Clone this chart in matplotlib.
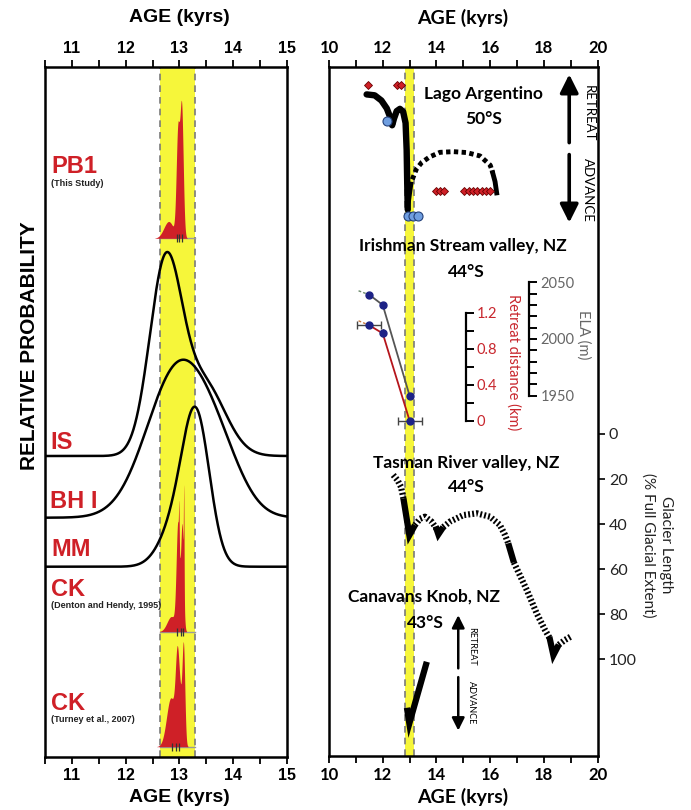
import numpy as np
import matplotlib
matplotlib.use("Agg")
import matplotlib.pyplot as plt
from matplotlib.ticker import MultipleLocator

# ---------------- data ----------------
# Left panel: relative probability curves (age kyr, 1-sigma kyr, relative weight)
left_ticks = [11, 12, 13, 14, 15]
band_left = [12.64, 13.28]
band_right = [12.83, 13.18]

is_ages = [12.74, 13.45]
is_sig = [0.30, 0.40]
is_w = [1.0, 0.38]
bh_ages = [12.97, 13.75]
bh_sig = [0.58, 0.45]
bh_w = [1.0, 0.28]
mm_ages = [13.32, 12.95]
mm_sig = [0.25, 0.30]
mm_w = [1.0, 0.30]
pb1_ages = [12.80, 12.97, 13.04]
pb1_sig = [0.09, 0.03, 0.03]
pb1_w = [0.13, 0.80, 1.0]
ckd_ages = [12.85, 12.97, 13.05, 13.08, 12.99]
ckd_sig = [0.08, 0.03, 0.025, 0.006, 0.006]
ckd_w = [0.08, 0.55, 0.55, 0.50, 0.20]
ckt_ages = [12.84, 12.96, 13.02, 13.075]
ckt_sig = [0.08, 0.035, 0.03, 0.025]
ckt_w = [0.45, 0.75, 0.30, 0.90]
pb1_marks = [12.96, 13.00, 13.04]
ckd_marks = [12.96, 13.02, 13.06]
ckt_marks = [12.86, 12.94, 13.00]

# Right panel (age kyr, glacier length % of full glacial extent; schematic)
right_ticks = [10, 12, 14, 16, 18, 20]
length_ticks = [0, 20, 40, 60, 80, 100]

lago_solid_age = [11.40, 11.70, 11.95, 12.15, 12.28, 12.35, 12.42, 12.52, 12.64, 12.76, 12.85, 12.89, 12.91, 12.93]
lago_solid_len = [-150.7, -150.3, -148.0, -144.5, -140.5, -137.0, -140.0, -143.3, -144.3, -143.0, -138.0, -126.0, -112.0, -99.6]
lago_link_age = [12.93, 12.99, 13.06]
lago_link_len = [-99.6, -105.0, -111.0]
lago_dash_age = [13.10, 13.25, 13.45, 13.75, 14.13, 14.63, 15.12, 15.62, 16.00, 16.09]
lago_dash_len = [-113.0, -117.5, -120.5, -123.0, -125.0, -125.3, -124.9, -123.4, -119.3, -116.0]
lago_end_age = [16.09, 16.18, 16.24]
lago_end_len = [-116.0, -112.0, -107.0]
lago_diam_top_age = [11.45, 12.52, 12.68]
lago_diam_top_len = [-155.1, -155.1, -155.1]
lago_diam_bot_age = [13.98, 14.13, 14.28, 15.02, 15.22, 15.37, 15.52, 15.68, 15.84, 15.99]
lago_diam_bot_len = [-107.7] * 10
lago_blue_age = [12.17, 12.95, 13.14, 13.32]
lago_blue_len = [-138.8, -96.9, -96.9, -96.9]

irish_age = [11.5, 12.0, 13.0]
irish_ela = [2039, 2030, 1950]
irish_retreat = [1.06, 0.97, 0.0]
irish_age_err = [0.45, 0.0, 0.45]
irish_ext_age = [11.1, 11.5]
irish_ext_ela = [2042.5, 2039]
irish_ext_ret = [1.11, 1.06]

tas_h1_age = [12.39, 12.55, 12.68, 12.77]
tas_h1_len = [18.2, 20.5, 23.5, 28.6]
tas_s1_age = [12.77, 12.99, 13.20]
tas_s1_len = [28.6, 44.9, 40.4]
tas_h2_age = [13.20, 13.39, 13.57, 13.82, 14.00]
tas_h2_len = [40.4, 37.6, 36.7, 38.9, 42.0]
tas_s2_age = [13.97, 14.07, 14.25]
tas_s2_len = [41.0, 44.5, 41.3]
tas_h3_age = [14.25, 14.50, 15.00, 15.50, 15.99, 16.36, 16.55, 16.67]
tas_h3_len = [41.3, 38.9, 36.0, 35.2, 36.7, 40.4, 44.8, 48.5]
tas_s3_age = [16.67, 16.88]
tas_s3_len = [48.5, 57.0]
tas_h4_age = [16.88, 17.36, 17.73, 18.04, 18.22]
tas_h4_len = [57.0, 69.2, 79.6, 87.0, 90.7]
tas_s4_age = [18.20, 18.35, 18.55]
tas_s4_len = [90.0, 98.1, 93.5]
tas_h5_age = [18.55, 18.78, 19.03]
tas_h5_len = [93.5, 91.4, 89.7]

cana_age = [13.64, 12.99, 12.90]
cana_len = [101.1, 128.4, 121.5]

# ---------------- figure ----------------
W, H = 691, 810
plt.rcParams['font.family'] = ['Liberation Sans', 'DejaVu Sans']
fig = plt.figure(figsize=(W / 100, H / 100), dpi=100)

YELLOW = '#f6f63a'
RED = '#cf2027'
RF = ['Lato', 'DejaVu Sans']


def add_ax(l, t, r, b):
    return fig.add_axes([l / W, 1 - b / H, (r - l) / W, (b - t) / H])


def ftext(x, y, s, **kw):
    fig.text(x / W, 1 - y / H, s, **kw)


def prob(ages, sig, w, x):
    y = np.zeros_like(x)
    for a, s, ww in zip(ages, sig, w):
        y += ww * np.exp(-0.5 * ((x - a) / s) ** 2)
    return y / y.max()


# ---------- left panel ----------
axL = add_ax(45, 66.7, 287, 756.7)
axL.set_xlim(10.5, 15)
axL.set_ylim(0, 690)
axL.set_yticks([])
axL.set_xticks(left_ticks)
axL.xaxis.set_minor_locator(MultipleLocator(0.5))
axL.tick_params(axis='x', which='both', top=True, bottom=True, labeltop=True,
                labelbottom=True, direction='out', length=5, width=1.3, pad=3)
axL.set_xticklabels([str(t) for t in left_ticks], fontsize=11.5, fontweight='bold')
for s in axL.spines.values():
    s.set_linewidth(1.8)

axL.axvspan(band_left[0], band_left[1], color=YELLOW, lw=0, zorder=0)
for xv in band_left:
    axL.axvline(xv, color='#7a7a7a', lw=1.2, ls=(0, (4, 3)), zorder=1)

x = np.linspace(10.5, 15, 3000)
# black curves: (ages, sig, w, baseline, height)
for ages, sig, w, base, h in [(is_ages, is_sig, is_w, 300.7, 204),
                              (bh_ages, bh_sig, bh_w, 239, 158),
                              (mm_ages, mm_sig, mm_w, 190, 160)]:
    axL.plot(x, base + h * prob(ages, sig, w, x), color='k', lw=1.8, zorder=3)

for ages, sig, w, marks, base, h in [(pb1_ages, pb1_sig, pb1_w, pb1_marks, 518.4, 138),
                                     (ckd_ages, ckd_sig, ckd_w, ckd_marks, 125, 147),
                                     (ckt_ages, ckt_sig, ckt_w, ckt_marks, 10, 105)]:
    p = prob(ages, sig, w, x)
    axL.plot(band_left, [base, base], color='#9a9a9a', lw=1.0, zorder=2)
    axL.fill_between(x, base, base + h * p, where=p > 2e-3, color=RED, lw=0, zorder=4)
    axL.vlines(marks, base - 4, base + 4, color='#333333', lw=0.9, zorder=5)

# left labels
ftext(179, 18, 'AGE (kyrs)', ha='center', va='center', fontsize=14, fontweight='bold')
ftext(179, 797, 'AGE (kyrs)', ha='center', va='center', fontsize=14, fontweight='bold')
ftext(30, 346, 'RELATIVE PROBABILITY', ha='center', va='center', rotation=90,
      fontsize=15, fontweight='bold')
lab_kw = dict(ha='left', va='center', fontsize=17, fontweight='bold', color=RED)
sub_kw = dict(ha='left', va='center', fontsize=6.5, fontweight='bold', color='#222222')
ftext(51, 166.7, 'PB1', **lab_kw)
ftext(51, 183.3, '(This Study)', **sub_kw)
ftext(50, 442.7, 'IS', **lab_kw)
ftext(50, 501.7, 'BH I', **lab_kw)
ftext(51, 550, 'MM', **lab_kw)
ftext(51, 590, 'CK', **lab_kw)
ftext(51, 606, '(Denton and Hendy, 1995)', **sub_kw)
ftext(51, 703.3, 'CK', **lab_kw)
ftext(51, 720, '(Turney et al., 2007)', **sub_kw)

# ---------- right panel ----------
axR = add_ax(329, 66.7, 597.7, 756)
axR.set_xlim(10, 20)
axR.set_ylim(142.9, -163.0)
axR.set_xticks(right_ticks)
axR.xaxis.set_minor_locator(MultipleLocator(1))
axR.tick_params(axis='x', which='both', top=True, bottom=True, labeltop=True,
                labelbottom=True, direction='out', length=5, width=1.3, pad=3)
axR.set_xticklabels([str(t) for t in right_ticks], fontsize=12, fontweight='bold', fontfamily=RF)
axR.yaxis.tick_right()
axR.set_yticks(length_ticks)
axR.set_yticklabels([str(t) for t in length_ticks], fontsize=11.5, fontfamily=RF, color='#222222')
axR.tick_params(axis='y', direction='out', length=5, width=1.2, pad=3)
for s in axR.spines.values():
    s.set_linewidth(1.8)

axR.axvspan(band_right[0], band_right[1], color=YELLOW, lw=0, zorder=0)
for xv in band_right:
    axR.axvline(xv, color='#7a7a7a', lw=1.2, ls=(0, (4, 3)), zorder=1)

hatch = dict(color='k', lw=4.5, ls=(0, (0.3, 0.35)), dash_capstyle='butt', zorder=3)
solid = dict(color='k', lw=4.5, solid_joinstyle='miter', solid_capstyle='butt', zorder=3)

# Lago Argentino
axR.plot(lago_solid_age, lago_solid_len, color='k', lw=4.6, solid_capstyle='round', zorder=3)
axR.plot(lago_link_age, lago_link_len, color='k', lw=3, zorder=3)
axR.plot(lago_dash_age, lago_dash_len, color='k', lw=3.5, ls=(0, (0.9, 0.7)),
         dash_capstyle='butt', zorder=3)
axR.plot(lago_end_age, lago_end_len, color='k', lw=3.5, zorder=3)
axR.plot(lago_diam_top_age, lago_diam_top_len, ls='none', marker='D', ms=4.5,
         mfc=RED, mec='#6a0000', mew=0.6, zorder=4)
axR.plot(lago_diam_bot_age, lago_diam_bot_len, ls='none', marker='D', ms=4.5,
         mfc=RED, mec='#6a0000', mew=0.6, zorder=4)
axR.plot(lago_blue_age, lago_blue_len, ls='none', marker='o', ms=6.5,
         mfc='#6f9ee0', mec='#23407a', mew=0.8, zorder=4)

# Tasman
for a, l in [(tas_h1_age, tas_h1_len), (tas_h2_age, tas_h2_len), (tas_h3_age, tas_h3_len),
             (tas_h4_age, tas_h4_len), (tas_h5_age, tas_h5_len)]:
    axR.plot(a, l, **hatch)
for a, l in [(tas_s1_age, tas_s1_len), (tas_s2_age, tas_s2_len), (tas_s3_age, tas_s3_len),
             (tas_s4_age, tas_s4_len)]:
    axR.plot(a, l, **solid)

# Canavans Knob
axR.plot(cana_age, cana_len, color='k', lw=4.5, solid_joinstyle='miter', solid_capstyle='butt', zorder=3)

# retreat / advance arrows
arr_big = dict(arrowstyle='-|>,head_length=0.5,head_width=0.25', color='k', lw=2.6,
               mutation_scale=22, shrinkA=0, shrinkB=0)
axR.annotate('', xy=(18.94, -159.6), xytext=(18.94, -129.3), arrowprops=arr_big, zorder=3)
axR.annotate('', xy=(18.94, -93.8), xytext=(18.94, -124.0), arrowprops=arr_big, zorder=3)
arr_sm = dict(arrowstyle='-|>,head_length=0.5,head_width=0.25', color='k', lw=1.8,
              mutation_scale=15, shrinkA=0, shrinkB=0)
axR.annotate('', xy=(14.81, 80.4), xytext=(14.81, 104.0), arrowprops=arr_sm, zorder=3)
axR.annotate('', xy=(14.81, 131.6), xytext=(14.81, 107.9), arrowprops=arr_sm, zorder=3)

# Irishman Stream inset axes
axRet = add_ax(329, 312.7, 597.7, 420.7)
axEla = add_ax(329, 282.3, 597.7, 395.7)
for ax, pos in [(axRet, 0.5087), (axEla, 0.7455)]:
    ax.set_xlim(10, 20)
    ax.patch.set_visible(False)
    for k in ['left', 'top', 'bottom']:
        ax.spines[k].set_visible(False)
    ax.spines['right'].set_position(('axes', pos))
    ax.spines['right'].set_linewidth(1.6)
    ax.set_xticks([])
    ax.yaxis.tick_right()
    ax.tick_params(axis='y', which='both', direction='out', length=6, width=1.4, pad=2)

axRet.set_ylim(0, 1.2)
axRet.set_yticks([0, 0.4, 0.8, 1.2])
axRet.set_yticklabels(['0', '0.4', '0.8', '1.2'], fontsize=10.5, fontfamily=RF, color='#c8262d')
axRet.yaxis.set_minor_locator(MultipleLocator(0.2))
axEla.set_ylim(1950, 2050)
axEla.set_yticks([1950, 2000, 2050])
axEla.set_yticklabels(['1950', '2000', '2050'], fontsize=10.5, fontfamily=RF, color='#666666')
axEla.yaxis.set_minor_locator(MultipleLocator(10))

NAVY = '#1d2286'
axEla.plot(irish_ext_age, irish_ext_ela, color='#6c8a6c', lw=1.0, ls=(0, (2, 1.5)), clip_on=False)
axRet.plot(irish_ext_age, irish_ext_ret, color='#c87840', lw=1.0, ls=(0, (2, 1.5)), clip_on=False)
axEla.plot(irish_age, irish_ela, color='#555555', lw=1.3, marker='o', ms=5,
           mfc=NAVY, mec=NAVY, clip_on=False)
axRet.errorbar(irish_age, irish_retreat, xerr=irish_age_err, fmt='none', ecolor='#444444',
               elinewidth=1.0, capsize=3, capthick=1.0, clip_on=False)
axRet.plot(irish_age, irish_retreat, color='#b5151c', lw=1.3, marker='o', ms=5,
           mfc=NAVY, mec=NAVY, clip_on=False)

# right panel texts
ftext(463, 18, 'AGE (kyrs)', ha='center', va='center', fontsize=14, fontweight='bold', fontfamily=RF)
ftext(463, 797, 'AGE (kyrs)', ha='center', va='center', fontsize=14, fontweight='bold', fontfamily=RF)
site_kw = dict(ha='center', va='center', fontsize=12.5, fontweight='bold', fontfamily=RF)
ftext(483.5, 93.5, 'Lago Argentino', **site_kw)
ftext(483.5, 118.5, '50°S', **site_kw)
ftext(463, 246, 'Irishman Stream valley, NZ', **site_kw)
ftext(466.7, 271.7, '44°S', **site_kw)
ftext(466.7, 463.3, 'Tasman River valley, NZ', **site_kw)
ftext(466.7, 486.7, '44°S', **site_kw)
ftext(424, 596.7, 'Canavans Knob, NZ', **site_kw)
ftext(425, 622.7, '43°S', **site_kw)

ftext(588.3, 113, 'RETREAT', ha='center', va='center', rotation=270, fontsize=9.5, fontfamily=RF)
ftext(588.3, 190, 'ADVANCE', ha='center', va='center', rotation=270, fontsize=9.5, fontfamily=RF)
ftext(471.7, 646.7, 'RETREAT', ha='center', va='center', rotation=270, fontsize=6.5, fontfamily=RF)
ftext(471.7, 702.7, 'ADVANCE', ha='center', va='center', rotation=270, fontsize=6.5, fontfamily=RF)

ftext(513.3, 361.7, 'Retreat distance (km)', ha='center', va='center', rotation=270,
      fontsize=10.5, fontfamily=RF, color='#c8262d')
ftext(583.3, 335, 'ELA (m)', ha='center', va='center', rotation=270,
      fontsize=10.5, fontfamily=RF, color='#666666')
ftext(657, 545, 'Glacier Length\n(% Full Glacial Extent)', ha='center', va='center',
      rotation=270, fontsize=11, fontfamily=RF, color='#222222', linespacing=1.35)

fig.savefig('out.png', dpi=100)
